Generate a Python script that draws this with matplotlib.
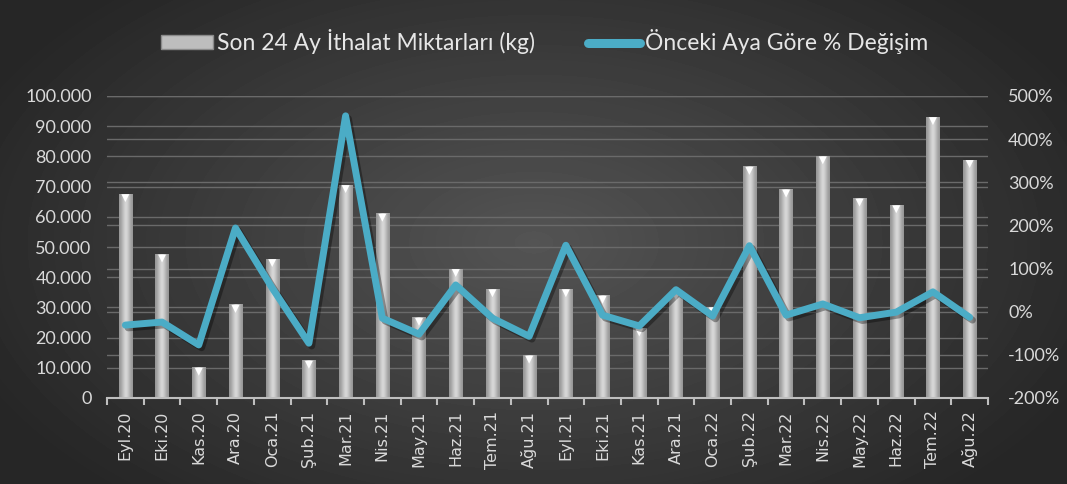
import matplotlib
matplotlib.use("Agg")
import matplotlib.pyplot as plt
import matplotlib.transforms as mtransforms
import matplotlib.patheffects as pe
from matplotlib.lines import Line2D
from matplotlib.patches import Patch
from matplotlib.ticker import FuncFormatter
import numpy as np

# data
months = ['Eyl.20', 'Eki.20', 'Kas.20', 'Ara.20', 'Oca.21', 'Şub.21', 'Mar.21', 'Nis.21',
          'May.21', 'Haz.21', 'Tem.21', 'Ağu.21', 'Eyl.21', 'Eki.21', 'Kas.21', 'Ara.21',
          'Oca.22', 'Şub.22', 'Mar.22', 'Nis.22', 'May.22', 'Haz.22', 'Tem.22', 'Ağu.22']
imports_kg = [67500, 47500, 10000, 30800, 46000, 12300, 70500, 61000,
              26500, 42700, 36000, 14000, 36000, 33800, 23000, 35000,
              30000, 76500, 69000, 80000, 66000, 63800, 93000, 78800]
change_pct = [-31, -24, -77, 194, 55, -73, 454, -15,
              -52, 62, -15, -57, 154, -8, -33, 51,
              -10, 153, -8, 18, -14, -1, 46, -13]

bar_label = 'Son 24 Ay İthalat Miktarları (kg)'
line_label = 'Önceki Aya Göre % Değişim'

LINE_COLOR = '#4bacc6'
TEXT_COLOR = '#d9d9d9'
GRID_COLOR = '#6a6a6a'

W, H = 1067, 484
fig = plt.figure(figsize=(W / 100, H / 100), dpi=100)

# dark radial background
bg = fig.add_axes([0, 0, 1, 1], zorder=-10)
yy, xx = np.mgrid[0:H, 0:W]
r = np.sqrt(((xx - W * 0.5) / (W * 0.6)) ** 2 + ((yy - H * 0.5) / (H * 0.75)) ** 2)
shade = np.clip(0.33 - 0.19 * r, 0.15, 0.33)
bg.imshow(shade, cmap='gray', vmin=0, vmax=1, aspect='auto', extent=[0, 1, 0, 1])
bg.set_axis_off()

ax = fig.add_axes([107 / W, (H - 398) / H, (988 - 107) / W, (398 - 96) / H])
ax.patch.set_alpha(0)
x = np.arange(len(months))

# gridlines (left axis + right axis positions)
for v in range(10000, 100001, 10000):
    ax.axhline(v, color=GRID_COLOR, lw=1, zorder=0)
for p in range(-100, 501, 100):
    ax.axhline((p + 200) / 700 * 100000, color=GRID_COLOR, lw=1, zorder=0)

# cylinder-like bars
bw = 0.36
grad = np.linspace(-1, 1, 40)
grad = 0.55 + 0.13 * np.cos(grad * np.pi / 2) ** 2 - 0.08 * np.abs(grad)
grad = grad[np.newaxis, :]
for xi, h in zip(x, imports_kg):
    ax.imshow(grad, cmap='gray', vmin=0, vmax=0.8, aspect='auto',
              extent=[xi - bw / 2, xi + bw / 2, 0, h], zorder=2, interpolation='bicubic')
ax.set_xlim(-0.5, len(months) - 0.5)
ax.set_ylim(0, 100000)
tri = mtransforms.offset_copy(ax.transData, fig=fig, x=0, y=-4, units='dots')
ax.scatter(x, imports_kg, marker='v', s=32, color='white', edgecolor='none',
           transform=tri, zorder=3)

# axis styling
for s in ['top', 'right', 'left']:
    ax.spines[s].set_visible(False)
ax.spines['bottom'].set_color('#bfbfbf')
ax.spines['bottom'].set_linewidth(1.5)
ax.set_xticks(x)
ax.set_xticklabels(months, rotation=90, fontsize=11.5, color=TEXT_COLOR, family='DejaVu Sans')
ax.set_xticks(np.arange(-0.5, len(months)), minor=True)
ax.tick_params(axis='x', which='major', length=0, pad=9)
ax.tick_params(axis='x', which='minor', length=5, color='#bfbfbf', width=1.5)
ax.set_yticks(range(0, 100001, 10000))
ax.yaxis.set_major_formatter(FuncFormatter(lambda v, _: f'{int(v):,}'.replace(',', '.')))
ax.tick_params(axis='y', length=0, labelsize=13, labelcolor=TEXT_COLOR, pad=11)
for t in ax.get_yticklabels():
    t.set_family('Lato')

ax2 = ax.twinx()
ax2.set_ylim(-200, 500)
ax2.set_yticks(range(-200, 501, 100))
ax2.yaxis.set_major_formatter(FuncFormatter(lambda v, _: f'{int(v)}%'))
ax2.tick_params(axis='y', length=0, labelsize=13, labelcolor=TEXT_COLOR, pad=14.5)
for t in ax2.get_yticklabels():
    t.set_family('Lato')
for s in ax2.spines.values():
    s.set_visible(False)
ax2.plot(x, change_pct, color=LINE_COLOR, lw=5, solid_joinstyle='round',
         solid_capstyle='round', zorder=5,
         path_effects=[pe.SimpleLineShadow(offset=(2, -2), alpha=0.35), pe.Normal()])

handles = [Patch(facecolor='#bdbdbd', edgecolor='#8a8a8a'),
           Line2D([0], [0], color=LINE_COLOR, lw=6.5, solid_capstyle='round')]
leg = fig.legend(handles, [bar_label, line_label], loc='center', ncol=2,
                 bbox_to_anchor=(0.51, 1 - 42 / H), frameon=False,
                 prop={'family': 'Lato', 'size': 16.5}, labelcolor='#e6e6e6',
                 columnspacing=2.3, handlelength=2.27, handletextpad=0.2,
                 handleheight=0.55)

fig.savefig('out.png', dpi=100)
